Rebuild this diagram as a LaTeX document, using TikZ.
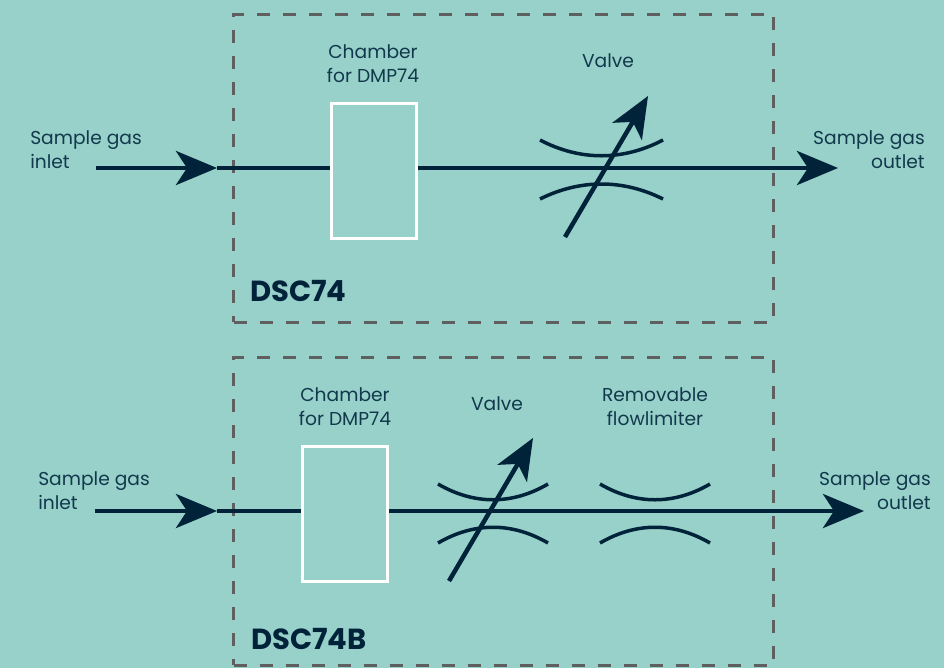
\documentclass[tikz,border=0pt]{standalone}
\usepackage{fontspec}
\setmainfont{Poppins}
\usetikzlibrary{arrows.meta}
\definecolor{bgteal}{HTML}{97D1CA}
\definecolor{pipeblue}{HTML}{00233A}
\definecolor{labelblue}{HTML}{12384C}
\definecolor{framegray}{HTML}{5F5F5F}
\newcommand{\px}{0.75pt}
\tikzset{
  pipe/.style={draw=pipeblue,line width=4.5*\px},
  flow/.style={pipe,-{Stealth[length=41*\px,width=34*\px,inset=11*\px]}},
  restrict/.style={draw=pipeblue,line width=3.5*\px},
  chamber/.style={draw=white,line width=3*\px,minimum width=85*\px,minimum height=135*\px,inner sep=0pt},
  frame/.style={draw=framegray,line width=3*\px,dash pattern=on 13*\px off 13*\px,minimum width=540*\px,minimum height=308*\px,inner sep=0pt},
  lbl/.style={text=labelblue,font=\fontsize{14}{18}\selectfont,align=center,inner sep=0pt},
  title/.style={text=pipeblue,font=\fontsize{21.8}{24}\selectfont\bfseries,inner sep=0pt}
}
\begin{document}
\begin{tikzpicture}[x=\px,y=-\px]
  \fill[bgteal] (0,0) rectangle (944,668);
  \useasboundingbox (0,0) rectangle (944,668);
  % top unit
  \node[frame] (frameA) at (503.5,168) {};
  \node[chamber] (chamberA) at (373.5,170.5) {};
  \node[title,anchor=west] (titleA) at (250,291) {DSC74};
  \node[lbl,align=left,anchor=west] (inletA) at (30,150) {Sample gas\\inlet};
  \node[lbl,align=right,anchor=east] (outletA) at (925,150) {Sample gas\\outlet};
  \node[lbl] (chamberlblA) at (373,63.5) {Chamber\\for DMP74};
  \node[lbl] (valvelblA) at (608,61) {Valve};
  \coordinate (startA) at (96,168);
  \coordinate (joinA) at (217,168);
  \coordinate (endA) at (838,168);
  \draw[flow] (startA) -- (joinA);
  \draw[pipe] (joinA) -- (joinA -| chamberA.west);
  \draw[flow] (chamberA.east |- joinA) -- (endA);
  \coordinate (stemA) at (565,237);
  \coordinate (tipA) at (648,96);
  \draw[restrict] (540,140) .. controls (580,161) and (623,161) .. (663,140);
  \draw[restrict] (540,199) .. controls (580,179) and (623,179) .. (663,199);
  \draw[flow] (stemA) -- (tipA);
  % bottom unit
  \node[frame] (frameB) at (503.5,511) {};
  \node[chamber] (chamberB) at (345,513.5) {};
  \node[title,anchor=west] (titleB) at (251,639) {DSC74B};
  \node[lbl,align=left,anchor=west] (inletB) at (38,491) {Sample gas\\inlet};
  \node[lbl,align=right,anchor=east] (outletB) at (931,491) {Sample gas\\outlet};
  \node[lbl] (chamberlblB) at (345,407) {Chamber\\for DMP74};
  \node[lbl] (valvelblB) at (497,404) {Valve};
  \node[lbl] (limiterlbl) at (655,407) {Removable\\flowlimiter};
  \coordinate (startB) at (95,511);
  \coordinate (joinB) at (217,511);
  \coordinate (endB) at (864,511);
  \draw[flow] (startB) -- (joinB);
  \draw[pipe] (joinB) -- (joinB -| chamberB.west);
  \draw[flow] (chamberB.east |- joinB) -- (endB);
  \coordinate (stemB) at (449,581);
  \coordinate (tipB) at (533,438);
  \foreach \xa/\xb in {438/548,600/710} {
    \draw[restrict] (\xa,484) .. controls (\xa+36,505) and (\xb-36,505) .. (\xb,484);
    \draw[restrict] (\xa,543) .. controls (\xa+36,522) and (\xb-36,522) .. (\xb,543);
  }
  \draw[flow] (stemB) -- (tipB);
\end{tikzpicture}
\end{document}
